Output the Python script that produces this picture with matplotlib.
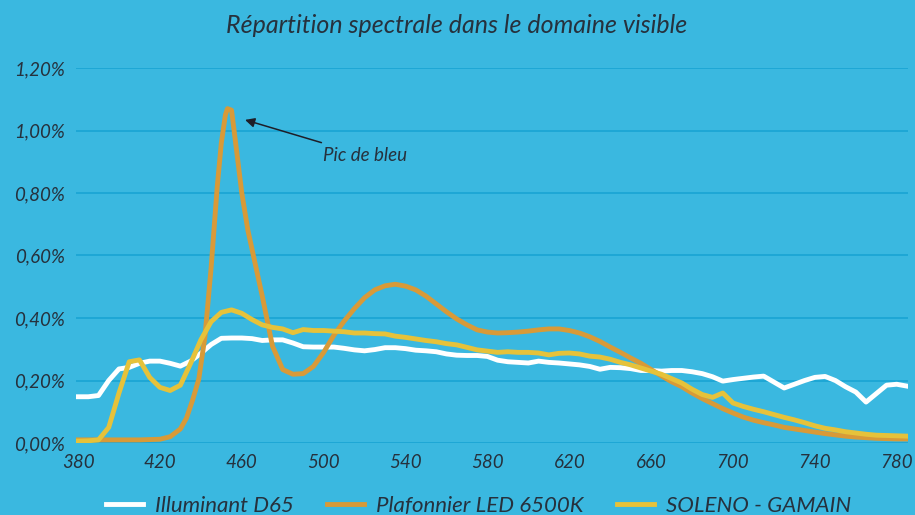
import matplotlib
matplotlib.use("Agg")
import matplotlib.pyplot as plt
import numpy as np
from matplotlib.ticker import FuncFormatter

### Data (values in %)

wl = list(range(380, 786, 5))

d65 = [0.148, 0.148, 0.152, 0.200, 0.237, 0.242, 0.255, 0.262, 0.262, 0.255,
       0.246, 0.262, 0.287, 0.315, 0.335, 0.336, 0.336, 0.334, 0.328, 0.330,
       0.330, 0.320, 0.308, 0.307, 0.307, 0.307, 0.303, 0.298, 0.295, 0.299,
       0.305, 0.305, 0.302, 0.297, 0.295, 0.292, 0.285, 0.281, 0.280, 0.280,
       0.277, 0.265, 0.260, 0.258, 0.256, 0.262, 0.258, 0.256, 0.253, 0.250,
       0.245, 0.236, 0.242, 0.241, 0.238, 0.232, 0.232, 0.230, 0.232, 0.232,
       0.228, 0.222, 0.212, 0.198, 0.203, 0.207, 0.211, 0.214, 0.195, 0.176,
       0.188, 0.200, 0.210, 0.213, 0.200, 0.180, 0.163, 0.131, 0.158, 0.185,
       0.188, 0.182]

soleno = [0.006, 0.007, 0.010, 0.050, 0.160, 0.260, 0.266, 0.210, 0.178, 0.168,
          0.185, 0.255, 0.330, 0.388, 0.418, 0.426, 0.415, 0.395, 0.378, 0.370,
          0.365, 0.353, 0.363, 0.360, 0.360, 0.358, 0.356, 0.352, 0.352, 0.350,
          0.349, 0.342, 0.338, 0.333, 0.328, 0.324, 0.318, 0.314, 0.306, 0.298,
          0.294, 0.290, 0.292, 0.290, 0.290, 0.288, 0.282, 0.287, 0.288, 0.285,
          0.278, 0.275, 0.268, 0.258, 0.250, 0.240, 0.230, 0.220, 0.206, 0.192,
          0.172, 0.155, 0.146, 0.160, 0.128, 0.117, 0.108, 0.100, 0.091, 0.082,
          0.074, 0.065, 0.055, 0.047, 0.042, 0.036, 0.032, 0.028, 0.025, 0.024,
          0.023, 0.022]

wl_led = [380, 390, 400, 410, 420, 425, 430, 433, 436, 439, 442, 445, 448, 450,
          452, 453, 455, 457, 460, 463, 465, 470, 475, 480, 485, 490, 495, 500,
          505, 510, 515, 520, 525, 530, 535, 540, 545, 550, 555, 560, 565, 570,
          575, 580, 585, 590, 595, 600, 605, 610, 615, 620, 625, 630, 635, 640,
          645, 650, 655, 660, 665, 670, 675, 680, 685, 690, 695, 700, 705, 710,
          715, 720, 725, 730, 735, 740, 745, 750, 755, 760, 765, 770, 775, 780,
          785]
led = [0.010, 0.010, 0.010, 0.010, 0.012, 0.020, 0.045, 0.080, 0.138, 0.205,
       0.340, 0.560, 0.820, 0.960, 1.050, 1.070, 1.065, 0.960, 0.800, 0.680,
       0.620, 0.470, 0.310, 0.235, 0.220, 0.222, 0.245, 0.290, 0.345, 0.390,
       0.430, 0.465, 0.490, 0.503, 0.508, 0.502, 0.490, 0.470, 0.445, 0.420,
       0.397, 0.378, 0.362, 0.355, 0.352, 0.353, 0.355, 0.358, 0.362, 0.365,
       0.365, 0.360, 0.352, 0.340, 0.325, 0.307, 0.290, 0.272, 0.255, 0.235,
       0.215, 0.196, 0.180, 0.160, 0.142, 0.126, 0.110, 0.096, 0.083, 0.073,
       0.065, 0.058, 0.050, 0.045, 0.040, 0.035, 0.030, 0.026, 0.022, 0.019,
       0.017, 0.015, 0.014, 0.013, 0.013]

labels = ["Illuminant D65", "Plafonnier LED 6500K", "SOLENO - GAMAIN"]
colors = ["#FFFFFF", "#D89A38", "#E6C23A"]

### Style

bg = "#3AB8E0"
grid_c = "#1CA6D4"
txt_c = "#26313D"
plt.rcParams['font.family'] = ['Lato', 'DejaVu Sans']
plt.rcParams['font.style'] = 'italic'

fig = plt.figure(figsize=(9.15, 5.15), dpi=100, facecolor=bg)
ax = fig.add_axes([76/915, 1-443/515, 832/915, 375/515], facecolor=bg)

ax.plot(wl, d65, color=colors[0], lw=3.5, label=labels[0], solid_joinstyle='round')
ax.plot(wl_led, led, color=colors[1], lw=3.5, label=labels[1], solid_joinstyle='round')
ax.plot(wl, soleno, color=colors[2], lw=3.5, label=labels[2], solid_joinstyle='round')

ax.set_xlim(379, 785.5)
ax.set_ylim(0, 1.2)
ax.set_yticks(np.arange(0, 1.21, 0.2))
ax.set_xticks(range(380, 781, 40))
ax.yaxis.set_major_formatter(FuncFormatter(lambda v, p: f"{v:.2f}%".replace(".", ",")))
ax.grid(axis='y', color=grid_c, lw=1.3)
ax.set_axisbelow(True)
for s in ax.spines.values():
    s.set_visible(False)
ax.tick_params(length=0, labelsize=13.5, labelcolor=txt_c)
ax.tick_params(axis='y', pad=8)
ax.tick_params(axis='x', pad=8)

fig.text(0.499, 0.95, "Répartition spectrale dans le domaine visible",
         ha='center', va='center', fontsize=18, color=txt_c)

ax.annotate("Pic de bleu", xy=(461.6, 1.034), xytext=(499.5, 0.92),
            fontsize=13.5, color=txt_c, va='center', ha='left',
            arrowprops=dict(arrowstyle='-|>', color='#1E1E28', lw=1.1,
                            mutation_scale=14, shrinkA=4, shrinkB=0))

fig.legend(loc='center', bbox_to_anchor=(0.523, 0.018), ncol=3, frameon=False,
           fontsize=16, handlelength=1.65, columnspacing=1.5, handletextpad=0.55,
           labelcolor=txt_c)

fig.savefig("out.png", dpi=100, facecolor=bg)
